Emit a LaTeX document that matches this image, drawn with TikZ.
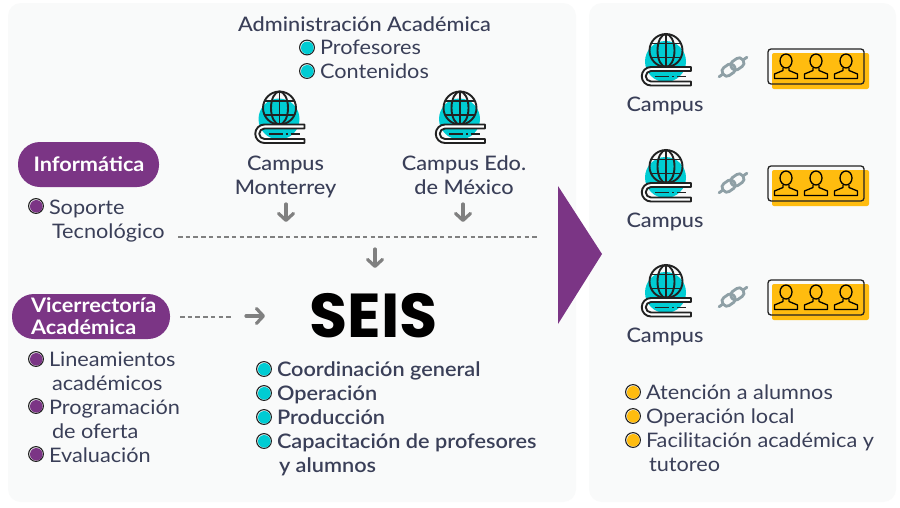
\documentclass[tikz,border=0pt]{standalone}
\usepackage{fontspec}
\setmainfont{Lato}[FakeStretch=1.085]
\newfontfamily\medfont{Lato Medium}[FakeStretch=1.085]
\newfontfamily\semifont{Lato Semibold}[FakeStretch=1.085]
\newfontfamily\seisfont{Poppins}[BoldFont={Poppins Bold}]
\usetikzlibrary{arrows.meta}
\definecolor{panelc}{HTML}{F9FAFA}
\definecolor{purplec}{HTML}{7B3585}
\definecolor{cyanc}{HTML}{00CCD3}
\definecolor{yellowc}{HTML}{FFBC0F}
\definecolor{textc}{HTML}{3A3F58}
\definecolor{greyc}{HTML}{808080}
\definecolor{linkc}{HTML}{8FA0A6}
\definecolor{inkc}{HTML}{222222}
\tikzset{
  x=1pt,y=-1pt,
  panel/.style={fill=panelc,draw=none,rounded corners=13pt},
  txt/.style={anchor=base west,inner sep=0pt,outer sep=0pt,text=textc,font=\fontsize{20}{24}\selectfont},
  semi/.style={txt,font=\fontsize{20}{24}\semifont\selectfont},
  ctr/.style={anchor=base,inner sep=0pt,outer sep=0pt,text=textc,font=\fontsize{20}{24}\medfont\selectfont},
  pill/.style={fill=purplec,draw=none,rounded corners=22pt},
  pilltxt/.style={inner sep=0pt,outer sep=0pt,text=white,font=\fontsize{20}{22}\bfseries\selectfont},
  dashline/.style={draw=greyc,line width=1.4pt,dash pattern=on 4.5pt off 3.2pt},
  garrow/.style={draw=greyc,line width=3.2pt,line cap=round,-{Straight Barb[length=7pt,width=15pt,line width=3.2pt,round]}},
  pics/campusicon/.style={code={
    \fill[cyanc] (-0.5,11) circle[radius=20.5];
    \draw[inkc,line width=1.9pt] (0,0) circle[radius=16.5];
    \draw[inkc,line width=1.9pt] (0,0) ellipse[x radius=8.5,y radius=16.5];
    \draw[inkc,line width=1.9pt] (0,-16.5)--(0,16.5) (-15,-7)--(15,-7) (-15,7)--(15,7);
    \draw[inkc,fill=white,line width=1.9pt,line join=round] (25,16.5)--(-15,16.5) arc[start angle=-90,end angle=-270,radius=9.25] --(25,35)--(25,31)--(-15,31) arc[start angle=-270,end angle=-90,radius=5.25] --(25,20.5)--cycle;
    \draw[inkc,line width=1.9pt] (-11,26)--(3,26) (6,26)--(8,26) (11,26)--(20,26);
  }},
  pics/person/.style={code={
    \draw[black,line width=1.3pt] (0,12) ellipse[x radius=6,y radius=7];
    \draw[black,line width=1.3pt,line join=round] (-3,19)--(-3,21.5)--(-11.5,25)--(-11.5,29.5)--(11.5,29.5)--(11.5,25)--(3,21.5)--(3,19);
  }},
  pics/group/.style={code={
    \fill[yellowc,rounded corners=2pt] (4,4) rectangle (101,40);
    \draw[inkc,line width=1.3pt,rounded corners=3pt] (0,0) rectangle (96,35);
    \pic at (18,0) {person};
    \pic at (48,0) {person};
    \pic at (78,0) {person};
  }},
  pics/chain/.style={code={
    \begin{scope}[rotate=35]
      \draw[linkc,line width=2.8pt,rounded corners=4pt] (-12,-4.8) rectangle (1.5,4.8);
      \draw[linkc,line width=2.8pt,rounded corners=4pt] (-1.5,-4.8) rectangle (12,4.8);
      \draw[linkc,line width=2.8pt,line cap=round] (-17,0)--(-12,0) (12,0)--(17,0);
    \end{scope}
  }},
  pics/dot/.style={code={
    \draw[inkc,line width=1.1pt] (0,0) circle[radius=7.4];
    \fill[#1] (0.3,0.3) circle[radius=6.3];
  }},
}
\begin{document}
\begin{tikzpicture}
\useasboundingbox (0,0) rectangle (900,507);
\fill[white] (0,0) rectangle (900,507);
\fill[panel] (8,3) rectangle (576,502);
\fill[panel] (589,3) rectangle (896,502);
\fill[purplec] (558,186)--(602,254)--(558,324)--cycle;

% top block
\node[ctr,anchor=base] (adm) at (364.5,31) {Administración Académica};
\pic at (307,47.5) {dot=cyanc};
\node[txt] (prof) at (320,54) {Profesores};
\pic at (307,71) {dot=cyanc};
\node[txt] (cont) at (320,78) {Contenidos};

% campus icons
\pic at (279.5,108) {campusicon};
\pic at (460,108) {campusicon};
\node[ctr] (mty1) at (285.5,170) {Campus};
\node[ctr] (mty2) at (285.5,194) {Monterrey};
\node[ctr] (edo1) at (464,170) {Campus Edo.};
\node[ctr] (edo2) at (464,194) {de México};

% connectors
\coordinate (a1s) at (286,204); \coordinate (a1e) at (286,222);
\coordinate (a2s) at (463,204); \coordinate (a2e) at (463,222);
\coordinate (a3s) at (375,249); \coordinate (a3e) at (375,268);
\coordinate (a4s) at (246,316); \coordinate (a4e) at (265,316);
\coordinate (d1s) at (178,237); \coordinate (d1e) at (538,237);
\coordinate (d2s) at (180,317); \coordinate (d2e) at (232,317);
\draw[garrow] (a1s)--(a1e);
\draw[garrow] (a2s)--(a2e);
\draw[garrow] (a3s)--(a3e);
\draw[garrow] (a4s)--(a4e);
\draw[dashline] (d1s)--(d1e);
\draw[dashline] (d2s)--(d2e);

% left block
\fill[pill] (18,142) rectangle (159,187);
\node[pilltxt] (inf) at (89,164) {Informática};
\pic at (36,206) {dot=purplec};
\node[txt] (sop) at (49,214) {Soporte};
\node[txt] (tec) at (52,238) {Tecnológico};

\fill[pill] (12,294) rectangle (170,339);
\node[pilltxt,anchor=base west] (vic1) at (31,312) {Vicerrectoría};
\node[pilltxt,anchor=base west] (vic2) at (31,334) {Académica};
\pic at (36,359) {dot=purplec};
\node[txt] (lin) at (49,366) {Lineamientos};
\node[txt] (aca) at (52,390) {académicos};
\pic at (36,406) {dot=purplec};
\node[txt] (pro) at (49,414) {Programación};
\node[txt] (ofe) at (52,438) {de oferta};
\pic at (36,454) {dot=purplec};
\node[txt] (eva) at (49,462) {Evaluación};

% SEIS
\node[anchor=base,inner sep=0pt,outer sep=0pt,text=black,font=\fontsize{62}{62}\seisfont\bfseries\selectfont] (seis) at (373.5,337) {SEIS};
\pic at (264,369) {dot=cyanc};
\node[semi] (coo) at (277,376) {Coordinación general};
\pic at (264,393) {dot=cyanc};
\node[semi] (ope) at (277,400) {Operación};
\pic at (264,417) {dot=cyanc};
\node[semi] (prd) at (277,424) {Producción};
\pic at (264,441) {dot=cyanc};
\node[semi] (cap) at (277,448) {Capacitación de profesores};
\node[semi] (yal) at (279,472) {y alumnos};

% right block
\pic at (666,50.5) {campusicon};
\pic at (666,166.5) {campusicon};
\pic at (666,281.5) {campusicon};
\node[ctr] (c1) at (665,111) {Campus};
\node[ctr] (c2) at (665,227) {Campus};
\node[ctr] (c3) at (665,342) {Campus};
\pic at (733,67) {chain};
\pic at (733,183) {chain};
\pic at (733,297) {chain};
\pic at (768,49) {group};
\pic at (768,166) {group};
\pic at (768,280) {group};
\pic at (633,392) {dot=yellowc};
\node[txt] (at) at (646,399) {Atención a alumnos};
\pic at (633,416) {dot=yellowc};
\node[txt] (ol) at (646,423) {Operación local};
\pic at (633,440) {dot=yellowc};
\node[txt] (fa) at (646,447) {Facilitación académica y};
\node[txt] (tu) at (649,471) {tutoreo};
\end{tikzpicture}
\end{document}
